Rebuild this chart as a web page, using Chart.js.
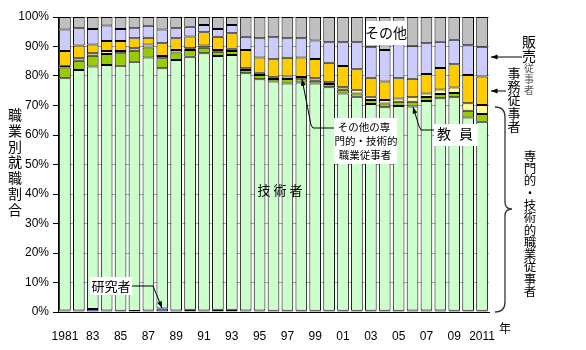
<!DOCTYPE html>
<html>
<head>
<meta charset="utf-8">
<script src="https://cdn.jsdelivr.net/npm/chart.js@4.4.0/dist/chart.umd.min.js"></script>
<style>
html, body { margin: 0; padding: 0; background: #fff; }
#wrap { width: 586px; height: 350px; position: relative; }
</style>
</head>
<body>
<div id="wrap"><canvas id="chart" width="586" height="350"></canvas></div>
<script>
// tick labels for the 31 years 1981-2011 (every other year shown)
const YEAR_LABELS = ['1981','','83','','85','','87','','89','','91','','93','','95','','97','','99','','01','','03','','05','','07','','09','','2011'];
const Y_TICKS = [0, 10, 20, 30, 40, 50, 60, 70, 80, 90, 100];

// shares (%), bottom to top of each bar
const RESEARCHERS = [0.5,0.5,1.0,0.5,0.4,0.3,0.5,1.2,0.5,0.8,0.5,0.8,0.8,0.5,0.5,0.4,0.4,0.4,0.4,0.4,0.4,0.4,0.4,0.4,0.4,0.5,0.5,0.5,0.4,0.4,0.4];
const ENGINEERS   = [78.7,81.5,82.2,83.2,83.1,84.5,85.8,81.4,84.9,85.7,87.2,86.0,86.3,80.4,78.4,77.7,77.1,77.4,77.1,75.8,73.7,72.6,70.1,69.0,69.4,69.2,71.0,72.0,72.4,65.5,64.1];
const TEACHERS    = [3.7,3.2,3.7,3.8,4.2,3.8,3.4,3.4,2.6,2.3,1.9,1.4,1.4,1.1,1.4,0.9,1.5,1.1,0.9,1.1,1.2,1.1,1.4,1.3,1.5,1.6,1.4,1.4,1.4,2.3,2.6];
const OTHER_PROF  = [0.6,0.8,0.8,1.0,0.8,0.8,1.0,0.8,0.8,0.6,0.7,0.6,0.7,0.6,0.8,0.6,0.8,0.8,0.8,0.6,0.9,1.2,1.1,1.2,1.1,1.5,1.2,1.5,1.9,2.6,3.1];
const CLERICAL    = [5.0,4.3,3.0,3.4,3.4,3.4,2.3,4.3,4.0,4.0,4.5,4.5,5.3,6.2,5.2,6.1,6.4,6.6,6.6,6.6,7.2,7.0,6.4,6.2,6.8,6.3,6.6,7.3,7.9,9.5,9.6];
const SALES       = [7.3,5.9,5.2,5.2,4.0,3.4,4.0,4.7,3.4,3.3,2.5,2.6,2.8,4.5,6.5,7.4,6.6,6.5,6.2,6.9,8.0,9.1,10.5,10.7,11.6,11.0,10.4,8.9,8.3,10.1,10.1];
const OTHERS      = [4.2,3.8,4.1,2.9,4.1,3.8,3.0,4.2,3.8,3.3,2.7,4.1,2.7,6.7,7.2,6.9,7.2,7.2,8.0,8.6,8.6,8.6,10.1,11.2,9.2,9.9,8.9,8.4,7.7,9.6,10.1];

const SERIES_NAMES = ['研究者','技術者','教員','その他の専門的・技術的職業従事者','事務従事者','販売従事者','その他'];
const SERIES_COLORS = ['#3366ff','#ccffcc','#99cc00','#ffff99','#ffcc00','#ccccff','#c0c0c0'];

const JP = "'Noto Sans CJK JP', sans-serif";
const NUM = "'Liberation Sans', Arial, sans-serif";

function arrow(ctx, x1, y1, x2, y2) {
    ctx.beginPath();
    ctx.moveTo(x1, y1);
    ctx.lineTo(x2, y2);
    ctx.stroke();
    const a = Math.atan2(y2 - y1, x2 - x1);
    ctx.beginPath();
    ctx.moveTo(x2, y2);
    ctx.lineTo(x2 - 7 * Math.cos(a - 0.35), y2 - 7 * Math.sin(a - 0.35));
    ctx.lineTo(x2 - 7 * Math.cos(a + 0.35), y2 - 7 * Math.sin(a + 0.35));
    ctx.closePath();
    ctx.fill();
}

function vtext(ctx, str, x, y0, step) {
    [...str].forEach((ch, i) => ctx.fillText(ch, x, y0 + i * step));
}

const notes = {
    id: 'notes',
    afterDraw(chart) {
        const ctx = chart.ctx;
        ctx.save();
        ctx.textAlign = 'center';
        ctx.textBaseline = 'middle';
        ctx.fillStyle = '#000';
        ctx.strokeStyle = '#000';
        ctx.lineWidth = 1;

        // y axis title
        ctx.font = '14px ' + JP;
        vtext(ctx, '職業別就職割合', 15, 115, 15.7);

        // その他
        ctx.fillStyle = '#fff';
        ctx.fillRect(366, 21, 41, 24);
        ctx.fillStyle = '#000';
        ctx.font = '14px ' + JP;
        ctx.fillText('その他', 386, 33);

        // 技術者
        ctx.font = '13px ' + JP;
        ctx.fillText('技', 264, 190);
        ctx.fillText('術', 280, 190);
        ctx.fillText('者', 296, 190);

        // 教員
        arrow(ctx, 419, 126, 413, 107);
        ctx.beginPath();
        ctx.moveTo(419, 126);
        ctx.lineTo(421, 130);
        ctx.lineTo(435, 130);
        ctx.stroke();
        ctx.fillStyle = '#fff';
        ctx.fillRect(434, 124, 44, 22);
        ctx.fillStyle = '#000';
        ctx.font = '14px ' + JP;
        ctx.fillText('教', 444, 134);
        ctx.fillText('員', 466, 134);

        // その他の専門的・技術的職業従事者
        arrow(ctx, 311, 125, 302, 79);
        ctx.beginPath();
        ctx.moveTo(311, 125);
        ctx.lineTo(313, 128);
        ctx.lineTo(335, 128);
        ctx.stroke();
        ctx.fillStyle = '#fff';
        ctx.fillRect(334, 118, 63, 46);
        ctx.fillStyle = '#000';
        ctx.font = '10.5px ' + JP;
        ctx.fillText('その他の専', 364, 127);
        ctx.fillText('門的・技術的', 366, 141);
        ctx.fillText('職業従事者', 365, 155);

        // 研究者
        ctx.beginPath();
        ctx.moveTo(132, 286);
        ctx.lineTo(153, 286);
        ctx.stroke();
        arrow(ctx, 153, 286, 162, 308);
        ctx.fillStyle = '#fff';
        ctx.fillRect(90, 277, 42, 18);
        ctx.fillStyle = '#000';
        ctx.font = '13px ' + JP;
        ctx.fillText('研究者', 111, 286);

        // 販売従事者
        arrow(ctx, 522, 57, 491, 57);
        ctx.font = '14px ' + JP;
        ctx.fillText('販', 529, 42);
        ctx.fillText('売', 529, 56);
        ctx.fillStyle = '#555';
        ctx.font = '10px ' + JP;
        vtext(ctx, '従事者', 529, 68, 11);
        ctx.fillStyle = '#000';

        // 事務従事者
        arrow(ctx, 506, 91, 491, 91);
        ctx.font = '13px ' + JP;
        vtext(ctx, '事務従事者', 514, 73, 13.2);

        // brace for 専門的・技術的職業従事者
        ctx.strokeStyle = '#333';
        ctx.lineWidth = 1.3;
        ctx.beginPath();
        ctx.moveTo(495, 107);
        ctx.quadraticCurveTo(505, 107, 505, 117);
        ctx.lineTo(505, 202);
        ctx.quadraticCurveTo(505, 209, 512, 209);
        ctx.quadraticCurveTo(505, 209, 505, 216);
        ctx.lineTo(505, 302);
        ctx.quadraticCurveTo(505, 312, 495, 312);
        ctx.stroke();
        ctx.font = '12.5px ' + JP;
        vtext(ctx, '専門的・技術的職業従事者', 530, 156, 12.3);

        // 年
        ctx.font = '12px ' + JP;
        ctx.fillText('年', 505, 328);
        ctx.restore();
    }
};

const seriesData = [RESEARCHERS, ENGINEERS, TEACHERS, OTHER_PROF, CLERICAL, SALES, OTHERS];

new Chart(document.getElementById('chart'), {
    type: 'bar',
    data: {
        labels: YEAR_LABELS,
        datasets: seriesData.map((d, i) => ({
            label: SERIES_NAMES[i],
            data: d,
            backgroundColor: SERIES_COLORS[i],
            borderColor: '#000',
            borderWidth: 1,
            borderSkipped: false,
            categoryPercentage: 1,
            barPercentage: 0.84
        }))
    },
    options: {
        responsive: false,
        animation: false,
        devicePixelRatio: 1,
        layout: { padding: { top: 17, right: 97, left: 0, bottom: 0 } },
        plugins: {
            legend: { display: false },
            tooltip: { enabled: false }
        },
        scales: {
            x: {
                stacked: true,
                grid: { display: false },
                border: { color: '#000' },
                ticks: {
                    autoSkip: false, maxRotation: 0, padding: 9, color: '#000',
                    font: { family: NUM, size: 12 }
                },
                afterFit: s => { s.height = 38; }
            },
            y: {
                stacked: true,
                min: 0, max: 100,
                afterBuildTicks: s => { s.ticks = Y_TICKS.map(v => ({ value: v })); },
                grid: { color: '#a8a8a8', tickColor: '#000', tickLength: 5 },
                border: { color: '#000' },
                ticks: {
                    padding: 4, color: '#000',
                    font: { family: NUM, size: 12 },
                    callback: v => v + '%'
                },
                afterFit: s => { s.width = 58; }
            }
        }
    },
    plugins: [notes]
});
</script>
</body>
</html>
